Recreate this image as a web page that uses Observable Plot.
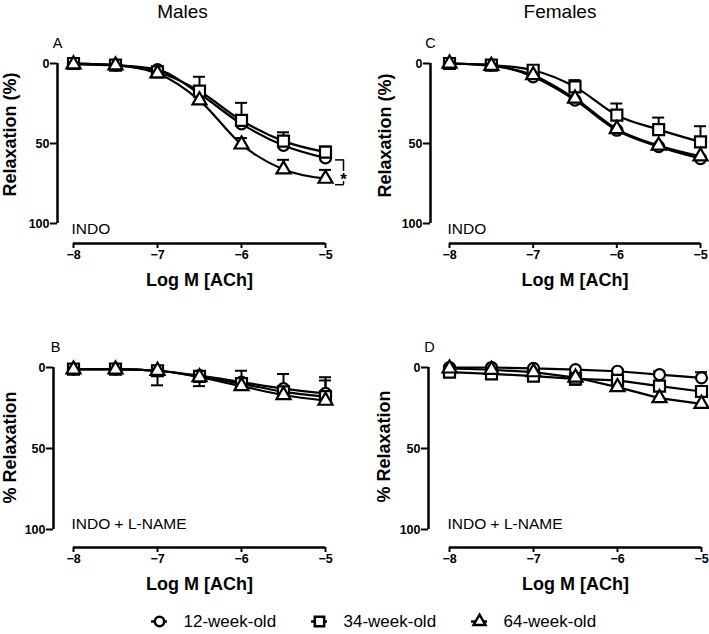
<!DOCTYPE html>
<html>
<head>
<meta charset="utf-8">
<script src="https://cdn.jsdelivr.net/npm/d3@7"></script>
<script src="https://cdn.jsdelivr.net/npm/@observablehq/plot@0.6"></script>
<style>
  body { margin: 0; background: #fff; }
  #fig { position: relative; width: 709px; height: 634px; overflow: hidden; background: #fff;
         font-family: "Liberation Sans", Arial, Helvetica, sans-serif; color: #000; }
  #fig > * { position: absolute; }
  .title { font-size: 19px; line-height: 22px; transform: translateX(-50%); white-space: nowrap; }
</style>
</head>
<body>
<div id="fig"></div>
<script>
// ---------------- data ----------------
const doses = [-8, -7.5, -7, -6.5, -6, -5.5, -5];
const groups = ["12-week-old", "34-week-old", "64-week-old"];
const groupSymbols = ["circle", "square", "triangle"];
const xTicks = [-8, -7, -6, -5];
const yTicks = [0, 50, 100];
const xLabel = "Log M [ACh]";
const colTitles = ["Males", "Females"];

// A: Males, INDO
const maleIndo12 = [0, 1, 3.8, 19, 37.7, 51.2, 59];
const maleIndo34 = [0, 1, 5.2, 17.3, 35.6, 48.5, 55.4];
const maleIndo64 = [0.5, 1.2, 6.2, 23, 50.6, 66.2, 72];
// signed error-bar lengths (negative = toward 0), 0 = not visible
const maleIndo12Err = [0, 0, 0, 0, 0, 0, 0];
const maleIndo34Err = [0, 0, 0, -9, -11, -5.5, -3.5];
const maleIndo64Err = [0, 0, 0, 0, -4, -6, -5.5];

// C: Females, INDO
const femaleIndo12 = [0, 1, 8.3, 22.9, 41.7, 52, 59.4];
const femaleIndo34 = [0, 1, 4.2, 14.6, 32.3, 41.3, 49];
const femaleIndo64 = [0, 1.5, 7.3, 21.9, 41, 51.3, 58];
const femaleIndo12Err = [0, 0, 0, 0, 0, 0, 0];
const femaleIndo34Err = [0, 0, 0, -4.2, -7.3, -7.5, -9.8];
const femaleIndo64Err = [0, 0, 0, 0, 0, 0, 0];

// B: Males, INDO + L-NAME
const maleLname12 = [1, 1, 2, 5, 9, 13, 16];
const maleLname34 = [1, 1, 2, 5.5, 10, 15, 18];
const maleLname64 = [1.2, 1.2, 2, 6, 11.5, 17, 20.5];
const maleLname12Err = [0, 0, 0, 0, -7, -9, -10];
const maleLname34Err = [0, 0, 9, 6, 0, 0, -10];
const maleLname64Err = [0, 0, 0, 0, 0, 0, 0];

// D: Females, INDO + L-NAME
const femaleLname12 = [0, 0, 0.5, 1.3, 2.3, 4.4, 6.4];
const femaleLname34 = [2.9, 3.9, 5.3, 7, 8, 11.5, 14.8];
const femaleLname64 = [0.6, 1.4, 2.9, 6.2, 12.1, 18.9, 22.4];
const femaleLname12Err = [0, 0, 0, 0, 0, -2, -3.5];
const femaleLname34Err = [0, 0, 0, 3.7, 0, 0, 0];
const femaleLname64Err = [0, 0, 0, 0, 0, 0, 0];

// ---------------- layout ----------------
const markerR = {circle: 5.5, square: 6.2, triangle: 5.2};
const font = "'Liberation Sans', Arial, Helvetica, sans-serif";
const tickFmt = d3.format("d");

const panels = [
  {letter: "A", condition: "INDO", yLabel: "Relaxation (%)",
   values: [maleIndo12, maleIndo34, maleIndo64], errs: [maleIndo12Err, maleIndo34Err, maleIndo64Err],
   curve: "monotone-x", left: 0, top: 30, width: 355, mL: 57, mR: 30, inL: 16, inB: 20,
   yLabDx: -47, yLabDy: -19, letterDx: 0, condDy: 6, bracket: {from: 0, to: 2, text: "*"}},
  {letter: "C", condition: "INDO", yLabel: "Relaxation (%)",
   values: [femaleIndo12, femaleIndo34, femaleIndo64], errs: [femaleIndo12Err, femaleIndo34Err, femaleIndo64Err],
   curve: "monotone-x", left: 355, top: 30, width: 354, mL: 75, mR: 9, inL: 19, inB: 20,
   yLabDx: -45, yLabDy: -18, letterDx: 0, condDy: 6},
  {letter: "B", condition: "INDO + L-NAME", yLabel: "% Relaxation",
   values: [maleLname12, maleLname34, maleLname64], errs: [maleLname12Err, maleLname34Err, maleLname64Err],
   curve: "monotone-x", left: 0, top: 334, width: 355, mL: 53, mR: 30, inL: 20, inB: 18,
   yLabDx: -43.5, yLabDy: -10, letterDx: 2, condDy: -5},
  {letter: "D", condition: "INDO + L-NAME", yLabel: "% Relaxation",
   values: [femaleLname12, femaleLname34, femaleLname64], errs: [femaleLname12Err, femaleLname34Err, femaleLname64Err],
   curve: "linear", left: 355, top: 334, width: 354, mL: 73, mR: 8, inL: 21, inB: 18,
   yLabDx: -44, yLabDy: -11, letterDx: 1, condDy: -5}
];

const fig = document.getElementById("fig");

function makePanel(p) {
  const rows = [];
  p.values.forEach((vals, gi) => vals.forEach((v, i) =>
    rows.push({group: groups[gi], sym: groupSymbols[gi], dose: doses[i], value: v, err: p.errs[gi][i]})));
  const errRows = rows.filter(d => d.err !== 0);
  const xMin = d3.min(xTicks), xMax = d3.max(xTicks);
  const yMin = d3.min(yTicks), yMax = d3.max(yTicks);

  const marks = [
    // axis lines
    Plot.ruleX([xMin], {x: d => d, y1: yMin, y2: yMax, dx: -p.inL, strokeWidth: 2.5}),
    Plot.ruleY([yMax], {y: d => d, x1: xMin, x2: xMax, dy: p.inB, strokeWidth: 2.5}),
    Plot.axisY({ticks: yTicks, tickFormat: tickFmt, tickSize: 7, tickPadding: 1, label: null, strokeWidth: 2,
                fontSize: 12.5, fontWeight: "bold", anchor: "left"}),
    Plot.axisX({ticks: xTicks, tickFormat: tickFmt, tickSize: 5, tickPadding: 2, label: null, strokeWidth: 2,
                fontSize: 12.5, fontWeight: "bold", anchor: "bottom"}),
    // curves
    Plot.line(rows, {x: "dose", y: "value", z: "group", curve: p.curve, stroke: "black", strokeWidth: 2.2}),
    // error bars
    Plot.ruleX(errRows, {x: "dose", y1: "value", y2: d => d.value + d.err, strokeWidth: 2}),
    Plot.ruleY(errRows, {y: d => d.value + d.err, x1: "dose", x2: "dose", insetLeft: -6, insetRight: -6, strokeWidth: 2}),
  ];
  // markers
  groups.forEach((g, gi) => {
    const sym = groupSymbols[gi];
    marks.push(Plot.dot(rows.filter(d => d.group === g), {x: "dose", y: "value", symbol: sym, r: markerR[sym],
      fill: "white", stroke: "black", strokeWidth: 2.2}));
  });
  // texts
  marks.push(
    Plot.text([p.letter], {text: d => d, frameAnchor: "top-left", dx: p.letterDx, dy: -20,
      textAnchor: "middle", lineAnchor: "middle", fontSize: 14.5, fontWeight: "normal"}),
    Plot.text([{x: xMin, y: yMax, t: p.condition}], {x: "x", y: "y", text: "t", dx: -2, dy: p.condDy,
      textAnchor: "start", lineAnchor: "middle", fontSize: 15.5, fontWeight: "normal"}),
    Plot.text([{x: (xMin + xMax) / 2, t: xLabel}], {x: "x", text: "t", frameAnchor: "bottom", dy: 37,
      textAnchor: "middle", lineAnchor: "middle", fontSize: 18, fontWeight: "bold"}),
    Plot.text([p.yLabel], {text: d => d, frameAnchor: "left", rotate: -90, dx: p.yLabDx, dy: p.yLabDy,
      textAnchor: "middle", lineAnchor: "middle", fontSize: 18, fontWeight: "bold"})
  );
  if (p.bracket) {
    const b = {x: doses[doses.length - 1],
               y1: p.values[p.bracket.from][doses.length - 1],
               y2: p.values[p.bracket.to][doses.length - 1], t: p.bracket.text};
    marks.push(
      Plot.ruleX([b], {x: "x", y1: "y1", y2: "y2", dx: 18, dy: 4, insetTop: -2, insetBottom: -2, strokeWidth: 1.5}),
      Plot.ruleY([b.y1 - 1.25, b.y2 + 1.25], {y: d => d, x1: b.x, x2: b.x, dy: 4, insetLeft: 10, insetRight: -18.75, strokeWidth: 1.5}),
      Plot.text([b], {x: "x", y: d => (d.y1 + d.y2) / 2, text: "t", dx: 18, dy: 11, fontSize: 17, fontWeight: "bold",
        fill: "black", stroke: "white", strokeWidth: 4})
    );
  }
  const svg = Plot.plot({
    width: p.width, height: 270,
    marginLeft: p.mL, marginRight: p.mR, marginTop: 33, marginBottom: 57,
    x: {domain: [xMin, xMax], insetLeft: p.inL, insetRight: 0},
    y: {domain: [yMin, yMax], reverse: true, insetBottom: p.inB, insetTop: 0},
    style: {fontFamily: font, color: "black", background: "transparent", overflow: "visible"},
    marks
  });
  svg.style.left = p.left + "px";
  svg.style.top = p.top + "px";
  fig.appendChild(svg);
}

panels.forEach(makePanel);

// column titles
const titleX = [182.5, 560];
colTitles.forEach((t, i) => {
  const d = document.createElement("div");
  d.className = "title";
  d.textContent = t;
  d.style.left = titleX[i] + "px";
  d.style.top = "1px";
  fig.appendChild(d);
});

// legend
const legendRow = "legend";
const legendMarks = [
  Plot.ruleY(groups, {y: () => legendRow, x1: d => d, x2: d => d, insetLeft: -8, insetRight: -8, strokeWidth: 2.5}),
  Plot.text(groups, {x: d => d, y: () => legendRow, text: d => d, dx: 24, textAnchor: "start", fontSize: 17, fontWeight: "normal"})
];
groups.forEach((g, gi) => {
  const sym = groupSymbols[gi];
  legendMarks.push(Plot.dot([g], {x: d => d, y: () => legendRow, symbol: sym, r: markerR[sym] * 0.85,
    fill: "white", stroke: "black", strokeWidth: 2.5}));
});
const legend = Plot.plot({
  width: 709, height: 30, margin: 0,
  x: {type: "point", domain: groups, range: [159, 479], padding: 0, axis: null},
  y: {type: "point", domain: [legendRow], range: [15, 15], axis: null},
  style: {fontFamily: font, color: "black", background: "transparent", overflow: "visible"},
  marks: legendMarks
});
legend.style.left = "0px";
legend.style.top = "606px";
fig.appendChild(legend);
</script>
</body>
</html>
